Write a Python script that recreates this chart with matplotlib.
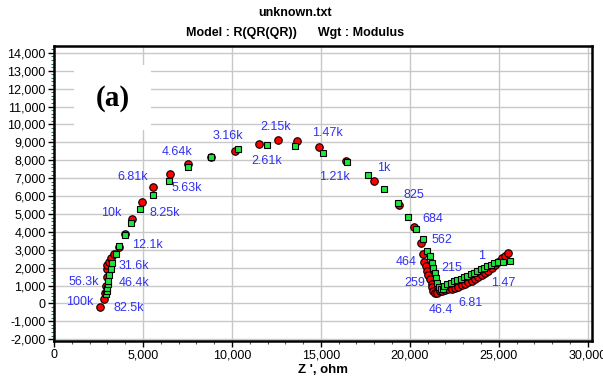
import matplotlib
matplotlib.use("Agg")
import matplotlib.pyplot as plt
from matplotlib.patches import Rectangle
from matplotlib.ticker import MultipleLocator, FuncFormatter

plt.rcParams["font.family"] = ["Liberation Sans", "DejaVu Sans"]

# Measured impedance (Z', -Z''), ohm, from high to low frequency
meas_zre = [2600, 2790, 2880, 2930, 2960, 2978, 2978, 3067, 3202, 3350,
            3652, 4006, 4360, 4944, 5562, 6494, 7506, 8830, 10146, 11517,
            12601, 13685, 14904, 16404, 17994, 19382, 20242, 20635, 20764, 20803,
            20899, 20955, 21045, 21140, 21236, 21270, 21326, 21421, 21534, 21685,
            21815, 21983, 22169, 22360, 22545, 22730, 22921, 23107, 23292, 23483,
            23669, 23854, 24045, 24230, 24416, 24607, 24792, 24978, 25169, 25354,
            25540]
meas_zim = [-210, 246, 600, 1000, 1450, 1905, 2145, 2330, 2553, 2743,
            3168, 3877, 4698, 5648, 6486, 7212, 7788, 8180, 8531, 8888,
            9128, 9073, 8754, 7972, 6821, 5480, 4268, 3358, 2743, 2330,
            2089, 1827, 1587, 1346, 1084, 899, 709, 598, 609, 693,
            720, 749, 788, 821, 877, 933, 1011, 1084, 1179, 1268,
            1380, 1492, 1603, 1715, 1827, 1978, 2128, 2330, 2520, 2665,
            2799]

# Fitted model R(QR(QR))
fit_zre = [2899, 2955, 2978, 3011, 3051, 3107, 3180, 3275, 3500, 3669,
           3966, 4326, 4848, 5562, 6461, 7545, 8837, 10315, 11944, 13556,
           15112, 16461, 17674, 18573, 19343, 19921, 20371, 20730, 20989, 21140,
           21236, 21326, 21421, 21478, 21551, 21663, 21742, 21850, 21927, 22112,
           22303, 22489, 22674, 22865, 23051, 23236, 23427, 23612, 23798, 23989,
           24174, 24360, 24551, 24736, 24961, 25225, 25635]
fit_zim = [525, 709, 877, 1067, 1268, 1570, 1922, 2274, 2743, 3224,
           3838, 4508, 5274, 6056, 6821, 7603, 8162, 8626, 8832, 8793,
           8385, 7883, 7156, 6374, 5626, 4827, 4173, 3581, 2944, 2648,
           2240, 1994, 1682, 1402, 1156, 933, 788, 800, 972, 1067,
           1156, 1235, 1307, 1380, 1458, 1548, 1642, 1715, 1810, 1905,
           1994, 2089, 2162, 2240, 2296, 2313, 2369]

# Frequency annotations (Hz) and their anchor points in data units
freq_labels = ["100k", "82.5k", "56.3k", "46.4k", "31.6k", "12.1k", "10k",
               "8.25k", "6.81k", "5.63k", "4.64k", "3.16k", "2.61k", "2.15k",
               "1.47k", "1.21k", "1k", "825", "684", "562", "464", "215",
               "259", "1", "1.47", "46.4", "6.81"]
freq_label_x = [1421, 4191, 1663, 4511, 4472, 5258, 3219,
                6197, 4438, 7433, 6910, 9753, 11927, 12433,
                15371, 15747, 18556, 20202, 21292, 21831, 19792, 22360,
                20298, 24045, 25225, 21742, 23427]
freq_label_y = [95, -274, 1179, 1123, 2106, 3263, 5034,
                5034, 7045, 6430, 8441, 9369, 7955, 9872,
                9503, 7045, 7547, 6056, 4715, 3542, 2296, 1994,
                1123, 2648, 1123, -369, 39]

fig = plt.figure(figsize=(6.03, 3.83), dpi=100)
ax = fig.add_axes([0.0896, 0.1104, 0.8922, 0.7694])

ax.set_xlim(0, 30240)
ax.set_ylim(-2084, 14380)

ax.xaxis.set_major_locator(MultipleLocator(5000))
ax.xaxis.set_minor_locator(MultipleLocator(1000))
ax.yaxis.set_major_locator(MultipleLocator(1000))
ax.yaxis.set_minor_locator(MultipleLocator(200))
fmt = FuncFormatter(lambda v, p: f"{int(round(v)):,}")
ax.xaxis.set_major_formatter(fmt)
ax.yaxis.set_major_formatter(fmt)

ax.grid(True, which="major", color="#c8c8c8", linewidth=1.0, zorder=0)
ax.set_axisbelow(True)

ax.tick_params(axis="both", which="major", direction="out", length=4,
               width=1.0, color="black", labelsize=9, pad=2)
ax.tick_params(axis="both", which="minor", direction="out", length=2.5,
               width=0.8, color="#2f6f6f")
for s in ax.spines.values():
    s.set_linewidth(1.8)
    s.set_color("black")

# Panel tag on a white patch
ax.add_patch(Rectangle((1100, 9690), 4370, 3630, facecolor="white",
                       edgecolor="none", zorder=1))
ax.text(3280, 11450, "(a)", fontsize=21, fontweight="bold",
        family=["Liberation Serif", "DejaVu Serif"], ha="center",
        va="center", zorder=2)

ax.plot(meas_zre, meas_zim, linestyle="none", marker="o", markersize=5.4,
        markerfacecolor="#ff0000", markeredgecolor="black",
        markeredgewidth=0.8, zorder=3)
ax.plot(fit_zre, fit_zim, linestyle="none", marker="s", markersize=4.5,
        markerfacecolor="#1ee63c", markeredgecolor="black",
        markeredgewidth=0.8, zorder=4)

for t, x, y in zip(freq_labels, freq_label_x, freq_label_y):
    ax.text(x, y, t, color="#3232f0", fontsize=9, ha="center",
            va="center", zorder=5)

ax.set_xlabel("Z ', ohm", fontsize=9.5, fontweight="bold", labelpad=2)

fig.text(0.49, 0.966, "unknown.txt", fontsize=9, fontweight="bold",
         ha="center", va="center")
fig.text(0.49, 0.913, "Model : R(QR(QR))      Wgt : Modulus", fontsize=9,
         fontweight="bold", ha="center", va="center")

fig.savefig("out.png", dpi=100)
